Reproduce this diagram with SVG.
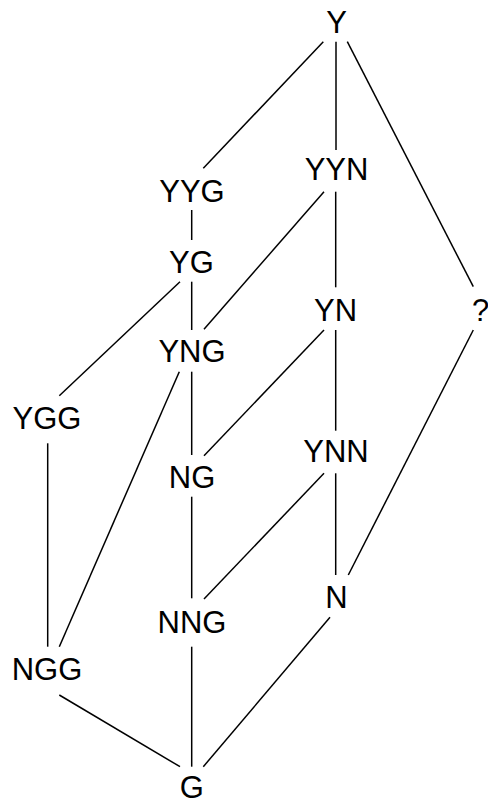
<svg xmlns="http://www.w3.org/2000/svg" width="488" height="804" viewBox="0 0 488 804">
  <style>
    .edge { stroke: #000; stroke-width: 1.5; fill: none; }
    .lbl { font-family: "Liberation Sans", Arial, sans-serif; font-size: 31px; fill: #000; text-anchor: middle; }
  </style>
  <rect width="488" height="804" fill="#fff"/>
  <g id="edges">
    <line class="edge" x1="323.3" y1="41.7" x2="203.3" y2="168.3"/>
    <line class="edge" x1="336" y1="41.7" x2="336" y2="150"/>
    <line class="edge" x1="347.3" y1="41.7" x2="473.3" y2="286.7"/>
    <line class="edge" x1="191.7" y1="210" x2="191.7" y2="240"/>
    <line class="edge" x1="191.7" y1="281.7" x2="191.7" y2="330"/>
    <line class="edge" x1="180" y1="281.7" x2="59.3" y2="395.7"/>
    <line class="edge" x1="324" y1="191.7" x2="204" y2="329.3"/>
    <line class="edge" x1="335.7" y1="191.7" x2="335.7" y2="287.3"/>
    <line class="edge" x1="473.3" y1="330" x2="348.3" y2="575"/>
    <line class="edge" x1="324" y1="330" x2="204" y2="455.7"/>
    <line class="edge" x1="335.7" y1="330" x2="335.7" y2="430.7"/>
    <line class="edge" x1="191.7" y1="371.7" x2="191.7" y2="455"/>
    <line class="edge" x1="179.3" y1="371.7" x2="59.3" y2="646.7"/>
    <line class="edge" x1="47.7" y1="443.3" x2="47.7" y2="646.7"/>
    <line class="edge" x1="191.7" y1="496.7" x2="191.7" y2="598.3"/>
    <line class="edge" x1="324" y1="473.3" x2="204" y2="599"/>
    <line class="edge" x1="335.7" y1="473.3" x2="335.7" y2="575"/>
    <line class="edge" x1="59.3" y1="695" x2="180" y2="766.7"/>
    <line class="edge" x1="191.7" y1="646.7" x2="191.7" y2="766.7"/>
    <line class="edge" x1="330" y1="617.3" x2="203.3" y2="766.7"/>
  </g>
  <g id="node-Y"><text class="lbl" x="336.5" y="33.3">Y</text></g>
  <g id="node-YYG"><text class="lbl" x="192" y="201.7">YYG</text></g>
  <g id="node-YYN"><text class="lbl" x="336.5" y="180">YYN</text></g>
  <g id="node-YG"><text class="lbl" x="191.5" y="272.7">YG</text></g>
  <g id="node-YN"><text class="lbl" x="335.5" y="320.7">YN</text></g>
  <g id="node-Q"><text class="lbl" x="480.5" y="320.7">?</text></g>
  <g id="node-YNG"><text class="lbl" x="192" y="361.7">YNG</text></g>
  <g id="node-YGG"><text class="lbl" x="47" y="429.3">YGG</text></g>
  <g id="node-NG"><text class="lbl" x="192" y="488.3">NG</text></g>
  <g id="node-YNN"><text class="lbl" x="336" y="461.7">YNN</text></g>
  <g id="node-N"><text class="lbl" x="336.5" y="608.3">N</text></g>
  <g id="node-NNG"><text class="lbl" x="192" y="632.7">NNG</text></g>
  <g id="node-NGG"><text class="lbl" x="47" y="680">NGG</text></g>
  <g id="node-G"><text class="lbl" x="191.7" y="798.3">G</text></g>
</svg>
